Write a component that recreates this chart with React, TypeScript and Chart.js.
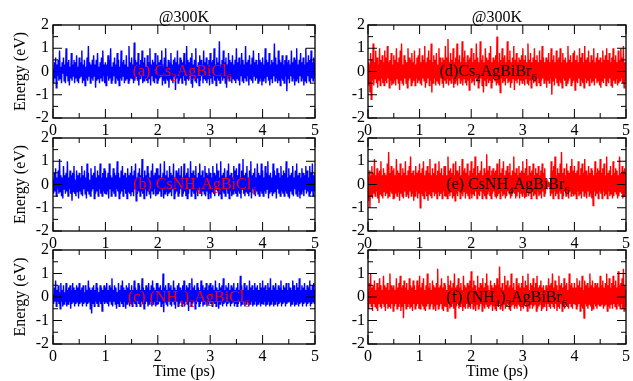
import React, { useEffect, useRef } from "react";
import { Chart, registerables } from "chart.js";

Chart.register(...registerables);

const FONT = "'Liberation Serif', 'Times New Roman', serif";

// ---- axis definitions ----
const T_MAX_PS = 5;
const xMajorTicks = [0, 1, 2, 3, 4, 5];
const xMinorTicks = [0.5, 1.5, 2.5, 3.5, 4.5];
const yMajorTicks = [-2, -1, 0, 1, 2];
const yMinorTicks = [-1.5, -0.5, 0.5, 1.5];
const panelTitle = "@300K";
const yAxisTitle = "Energy (eV)";
const xAxisTitle = "Time (ps)";

// ---- series values (eV), sampled every 0.0125 ps from 0 to 5 ps ----
const energyCs2AgBiCl6 = [
  0.1,-0.5,0.4,-0.3,0.6,-0.7,0.3,-0.2,0.5,-0.4,0.9,-0.3,0.2,-0.5,0.4,-0.1,0.6,-0.4,0.3,-0.5,1.0,-0.2,0.4,-0.4,0.5,-0.6,0.2,-0.3,0.8,-0.4,0.3,-0.2,0.5,-0.5,0.4,-0.3,0.7,-0.4,0.2,-0.5,
  0.6,-0.3,0.4,-0.2,0.9,-0.5,0.3,-0.4,0.5,-0.6,0.2,-0.3,0.6,-0.4,1.1,-0.2,0.4,-0.5,0.3,-0.3,0.5,-0.4,0.7,-0.2,0.3,-0.7,0.5,-0.4,0.8,-0.3,0.2,-0.5,0.4,-0.3,0.6,-0.4,0.9,-0.2,0.3,-0.5,
  0.4,-0.6,0.3,-0.2,0.7,-0.4,0.5,-0.3,1.0,-0.5,0.2,-0.4,0.4,-0.2,0.6,-0.5,0.3,-0.3,0.8,-0.4,0.5,-0.6,0.2,-0.3,0.9,-0.4,0.4,-0.2,0.5,-0.5,0.3,-0.4,0.7,-0.3,0.2,-0.5,1.1,-0.4,0.4,-0.3,
  0.6,-0.3,0.3,-0.5,1.25,-0.4,0.5,-0.2,0.4,-0.4,0.8,-0.6,0.3,-0.3,0.5,-0.2,0.9,-0.5,0.4,-0.4,0.6,-0.3,0.2,-0.4,0.7,-0.5,0.4,-0.3,1.0,-0.6,0.3,-0.2,0.5,-0.4,0.4,-0.5,0.8,-0.3,0.3,-0.5,
  0.7,-0.4,0.4,-0.3,0.5,-0.2,0.9,-0.6,0.3,-0.4,0.6,-0.5,1.0,-0.3,0.2,-0.4,0.5,-0.7,0.4,-0.3,0.8,-0.4,0.3,-0.5,0.5,-0.2,0.6,-0.8,0.4,-0.3,0.9,-0.5,0.3,-0.4,0.6,-0.3,0.5,-0.5,0.4,-0.2,
  0.8,-0.4,0.3,-0.6,1.1,-0.3,0.5,-0.4,0.4,-0.2,0.6,-0.5,0.8,-0.7,0.3,-0.3,0.5,-0.4,1.0,-0.5,0.2,-0.3,0.4,-0.6,0.7,-0.4,0.5,-0.2,0.3,-0.5,0.9,-0.3,0.4,-0.4,0.6,-0.5,0.3,-0.3,0.5,-0.6,
  0.8,-0.3,0.4,-0.5,0.5,-0.2,1.0,-0.4,0.3,-0.6,0.6,-0.3,0.4,-0.4,1.3,-0.5,0.3,-0.2,0.5,-0.4,0.9,-0.3,0.4,-0.5,0.6,-0.7,0.3,-0.3,0.8,-0.4,0.5,-0.2,0.4,-0.5,0.7,-0.3,0.3,-0.4,0.5,-0.5,
  1.0,-0.3,0.4,-0.4,0.6,-0.6,0.3,-0.2,0.8,-0.4,0.5,-0.5,0.3,-0.3,1.1,-0.4,0.4,-0.2,0.5,-0.6,0.7,-0.3,0.3,-0.4,0.6,-0.5,0.9,-0.2,0.4,-0.4,0.5,-0.3,0.3,-0.5,0.8,-0.4,0.5,-0.3,0.4,-0.6,
  0.6,-0.4,0.3,-0.3,1.0,-0.5,0.5,-0.2,0.4,-0.4,0.8,-0.6,0.3,-0.3,0.5,-0.5,0.4,-0.2,1.2,-0.4,0.6,-0.3,0.3,-0.5,0.9,-0.4,0.5,-0.6,0.4,-0.3,0.7,-0.4,0.3,-0.5,0.5,-0.2,0.7,-0.85,0.4,-0.3,
  0.5,-0.5,0.3,-0.2,0.9,-0.4,0.4,-0.3,0.6,-0.6,0.5,-0.4,1.0,-0.3,0.3,-0.5,0.5,-0.2,0.8,-0.4,0.4,-0.3,0.6,-0.6,0.3,-0.4,1.0,-0.5,0.4,-0.2,0.7,-0.4,0.5,-0.5,0.9,-0.3,0.4,-0.4,0.6,-0.3,
  0.4,
];

const energyCsNH4AgBiCl6 = [
  0.2,-0.4,0.5,-0.3,0.7,-0.5,0.3,-0.2,0.6,-0.4,1.1,-0.3,0.4,-0.5,0.3,-0.6,0.8,-0.2,0.4,-0.4,0.5,-0.3,1.0,-0.5,0.3,-0.2,0.6,-0.4,0.4,-0.7,0.5,-0.3,0.8,-0.4,0.2,-0.5,0.6,-0.3,0.4,-0.6,
  0.5,-0.3,0.3,-0.4,0.8,-0.5,0.4,-0.2,0.6,-0.4,0.3,-0.6,0.9,-0.3,0.5,-0.4,0.2,-0.5,0.7,-0.3,0.4,-0.2,0.5,-0.6,0.8,-0.4,0.3,-0.3,0.6,-0.5,0.4,-0.2,0.9,-0.4,0.3,-0.5,0.5,-0.3,0.7,-0.4,
  0.6,-0.4,0.3,-0.3,0.5,-0.6,0.9,-0.2,0.4,-0.5,0.3,-0.3,0.7,-0.4,0.5,-0.5,0.4,-0.2,1.0,-0.3,0.5,-0.6,0.3,-0.4,0.6,-0.3,0.8,-0.5,0.4,-0.2,0.5,-0.4,0.3,-0.6,0.7,-0.3,0.4,-0.4,0.5,-0.5,
  0.8,-0.3,0.4,-0.5,0.6,-0.2,0.9,-0.7,0.3,-0.4,0.5,-0.3,0.7,-0.5,0.4,-0.3,1.1,-0.4,0.3,-0.6,0.6,-0.2,0.4,-0.5,0.8,-0.3,0.5,-0.4,0.3,-0.6,0.6,-0.3,0.9,-0.4,0.4,-0.2,0.5,-0.5,0.7,-0.4,
  0.7,-0.4,0.4,-0.3,0.9,-0.5,0.3,-0.2,0.5,-0.6,1.0,-0.4,0.4,-0.3,0.6,-0.5,0.3,-0.4,0.8,-0.3,0.5,-0.5,0.4,-0.2,0.9,-0.6,0.3,-0.4,0.6,-0.3,0.5,-0.5,0.7,-0.4,0.4,-0.2,0.8,-0.5,0.3,-0.4,
  0.9,-0.3,0.4,-0.5,0.5,-0.6,0.7,-0.4,0.3,-0.2,1.0,-0.5,0.5,-0.3,0.6,-0.4,0.4,-0.6,0.8,-0.3,0.3,-0.5,0.5,-0.2,0.9,-0.4,0.4,-0.5,0.6,-0.3,0.3,-0.4,0.8,-0.5,0.5,-0.3,0.4,-0.6,0.7,-0.4,
  0.5,-0.6,0.3,-0.3,0.8,-0.4,0.5,-0.5,0.4,-0.2,0.9,-0.3,0.6,-0.5,0.3,-0.4,1.0,-0.6,0.4,-0.3,0.5,-0.4,0.7,-0.5,0.3,-0.2,0.6,-0.4,0.9,-0.6,0.4,-0.3,0.5,-0.5,0.3,-0.4,0.8,-0.3,0.6,-0.4,
  0.7,-0.5,0.4,-0.3,0.9,-0.4,0.3,-0.6,0.6,-0.2,1.1,-0.4,0.4,-0.5,0.5,-0.3,0.8,-0.4,0.3,-0.5,0.6,-0.3,1.0,-0.6,0.4,-0.2,0.5,-0.4,0.7,-0.5,0.3,-0.3,0.9,-0.4,0.5,-0.5,0.4,-0.3,0.9,-0.4,
  0.6,-0.5,0.3,-0.3,0.8,-0.4,0.5,-0.2,1.0,-0.6,0.4,-0.4,0.5,-0.3,0.3,-0.5,0.9,-0.4,0.6,-0.3,0.4,-0.6,0.7,-0.2,0.5,-0.4,0.3,-0.5,0.8,-0.3,0.4,-0.4,0.6,-0.5,0.5,-0.3,1.0,-0.4,0.3,-0.5,
  0.7,-0.6,0.4,-0.3,0.5,-0.4,0.8,-0.5,0.3,-0.2,0.6,-0.4,0.9,-0.5,0.4,-0.3,0.5,-0.6,0.3,-0.4,0.7,-0.3,0.5,-0.5,0.4,-0.2,0.8,-0.4,0.6,-0.3,0.3,-0.5,0.8,-0.4,0.5,-0.3,0.9,-0.5,0.4,-0.3,
  0.5,
];

const energyNH4_2AgBiCl6 = [
  0.1,-0.3,0.4,-0.2,0.7,-0.4,0.3,-0.2,0.5,-0.3,0.2,-0.5,0.6,-0.2,0.3,-0.4,0.5,-0.3,0.2,-0.2,0.6,-0.4,0.3,-0.3,0.4,-0.2,0.5,-0.5,0.3,-0.3,0.6,-0.2,0.4,-0.4,0.3,-0.3,0.5,-0.2,0.4,-0.4,
  0.6,-0.3,0.3,-0.2,0.4,-0.4,0.5,-0.3,0.2,-0.2,0.5,-0.4,0.3,-0.3,0.7,-0.2,0.4,-0.5,0.3,-0.7,0.4,-0.3,0.5,-0.4,0.3,-0.2,0.6,-0.3,0.4,-0.4,0.2,-0.2,0.5,-0.3,0.4,-0.6,0.3,-0.2,0.5,-0.3,
  0.4,-0.2,0.6,-0.3,0.3,-0.4,0.5,-0.2,0.4,-0.3,0.8,-0.4,0.3,-0.2,0.5,-0.3,0.4,-0.5,0.2,-0.3,0.6,-0.4,0.3,-0.2,0.5,-0.3,0.7,-0.4,0.4,-0.2,0.3,-0.5,0.5,-0.3,0.4,-0.2,0.6,-0.4,0.3,-0.3,
  0.5,-0.4,0.3,-0.2,0.7,-0.3,0.4,-0.4,0.3,-0.2,0.6,-0.3,0.5,-0.4,0.3,-0.2,0.8,-0.3,0.4,-0.5,0.3,-0.3,0.5,-0.2,0.4,-0.4,0.6,-0.3,0.3,-0.2,0.5,-0.4,0.7,-0.3,0.4,-0.2,0.3,-0.4,0.6,-0.3,
  0.6,-0.3,0.4,-0.2,0.5,-0.4,0.3,-0.3,1.0,-0.65,0.4,-0.2,0.5,-0.3,0.3,-0.4,0.6,-0.2,0.4,-0.3,0.5,-0.4,0.3,-0.2,0.7,-0.3,0.4,-0.5,0.3,-0.2,0.5,-0.4,0.6,-0.3,0.4,-0.2,0.3,-0.4,0.5,-0.3,
  0.7,-0.4,0.3,-0.2,0.5,-0.3,0.4,-0.6,0.6,-0.2,0.3,-0.4,0.8,-0.3,0.4,-0.2,0.5,-0.5,0.3,-0.3,0.6,-0.2,0.4,-0.4,0.3,-0.3,0.7,-0.2,0.5,-0.4,0.3,-0.3,0.4,-0.2,0.6,-0.4,0.3,-0.3,0.5,-0.2,
  0.6,-0.3,0.4,-0.4,0.5,-0.2,0.3,-0.3,0.7,-0.4,0.4,-0.2,0.3,-0.5,0.6,-0.3,0.4,-0.2,0.5,-0.4,0.8,-0.3,0.3,-0.2,0.5,-0.4,0.4,-0.3,0.6,-0.2,0.3,-0.4,0.5,-0.3,0.4,-0.2,0.6,-0.4,0.3,-0.3,
  0.4,-0.4,0.6,-0.3,0.3,-0.2,0.9,-0.4,0.5,-0.3,0.3,-0.2,0.6,-0.4,0.4,-0.3,0.5,-0.2,0.3,-0.4,0.7,-0.3,0.4,-0.2,0.5,-0.4,0.3,-0.3,0.6,-0.2,0.4,-0.4,0.5,-0.3,0.3,-0.2,0.6,-0.4,0.4,-0.3,
  0.7,-0.3,0.4,-0.2,0.5,-0.4,0.3,-0.3,0.6,-0.2,0.4,-0.4,0.8,-0.3,0.3,-0.2,0.5,-0.4,0.4,-0.3,0.6,-0.2,0.3,-0.4,0.5,-0.3,0.4,-0.2,0.7,-0.4,0.3,-0.3,0.5,-0.2,0.4,-0.4,0.6,-0.3,0.3,-0.2,
  0.6,-0.2,0.4,-0.4,0.3,-0.3,0.7,-0.2,0.5,-0.4,0.3,-0.3,0.6,-0.2,0.4,-0.4,0.8,-0.3,0.3,-0.2,0.5,-0.4,0.4,-0.3,0.6,-0.2,0.3,-0.4,0.5,-0.3,0.4,-0.2,0.7,-0.4,0.3,-0.3,0.5,-0.2,0.6,-0.3,
  0.3,
];

const energyCs2AgBiBr6 = [
  0.4,-0.6,0.3,-0.9,0.8,-1.2,0.5,-0.4,1.2,-0.6,0.4,-0.3,0.9,-0.5,0.6,-0.7,0.3,-0.4,1.0,-0.6,0.5,-0.3,0.7,-0.5,0.4,-0.6,0.9,-0.4,0.6,-0.5,1.1,-0.3,0.4,-0.7,0.5,-0.4,0.8,-0.6,0.3,-0.5,
  0.7,-0.4,0.5,-0.6,1.0,-0.3,0.4,-0.5,0.6,-0.8,0.9,-0.4,1.2,-0.5,0.3,-0.6,0.7,-0.3,0.5,-0.5,0.4,-0.7,1.0,-0.4,0.6,-0.3,0.5,-0.6,0.8,-0.5,0.4,-0.4,0.9,-0.6,0.3,-0.3,0.6,-0.5,0.7,-0.4,
  1.0,-0.5,0.4,-0.6,0.7,-0.3,0.5,-0.4,1.1,-0.7,0.4,-0.5,0.6,-0.3,0.9,-0.6,0.5,-0.4,1.2,-0.9,0.4,-0.5,0.7,-0.3,0.5,-0.6,0.8,-0.4,0.3,-0.5,1.0,-0.6,0.6,-0.3,0.4,-0.5,0.6,-0.7,0.5,-0.4,
  1.1,-0.5,0.6,-0.3,1.4,-0.6,0.4,-0.4,0.8,-0.5,0.5,-0.3,1.0,-0.7,0.4,-0.5,0.6,-0.4,1.2,-0.6,0.5,-0.3,0.7,-0.5,0.4,-0.4,1.3,-0.6,0.6,-0.3,0.9,-0.5,0.4,-0.6,0.7,-0.4,0.5,-0.8,0.6,-0.3,
  1.0,-0.5,0.4,-0.4,0.8,-0.6,0.5,-0.3,1.2,-0.4,0.6,-0.7,0.4,-0.5,1.3,-0.3,0.5,-0.6,0.7,-0.9,0.4,-0.4,1.0,-0.6,0.6,-0.3,0.5,-0.5,0.8,-0.4,1.1,-0.7,0.4,-0.5,0.6,-0.3,0.5,-0.4,0.7,-0.6,
  1.5,-0.5,0.4,-0.6,0.8,-0.9,0.5,-0.3,1.0,-0.5,0.6,-0.4,0.7,-0.6,0.4,-0.3,1.3,-0.5,0.5,-0.4,0.9,-0.7,0.4,-0.5,0.6,-0.3,1.1,-0.8,0.5,-0.4,0.8,-0.5,0.4,-0.3,0.6,-0.6,0.5,-0.4,0.7,-0.5,
  1.0,-0.4,0.5,-0.6,0.7,-0.3,0.4,-0.5,1.2,-0.6,0.5,-0.4,0.8,-0.7,0.4,-0.3,0.6,-0.5,1.0,-0.4,0.5,-0.6,0.7,-0.3,0.4,-0.5,0.9,-0.6,0.5,-0.4,1.1,-0.3,0.6,-0.5,0.4,-0.4,0.6,-0.7,0.5,-0.4,
  0.8,-0.5,0.4,-0.3,1.0,-1.0,0.5,-0.4,0.7,-0.6,0.4,-0.3,0.9,-0.5,0.5,-0.6,0.6,-0.4,1.0,-0.5,0.4,-0.7,0.8,-0.3,0.5,-0.4,0.6,-0.6,0.4,-0.5,1.1,-0.4,0.5,-0.3,0.7,-0.6,0.4,-0.5,0.8,-0.4,
  0.9,-0.8,0.5,-0.4,0.7,-0.5,0.4,-0.3,1.0,-0.6,0.6,-0.4,0.8,-0.5,0.4,-0.7,1.1,-0.3,0.5,-0.5,0.6,-0.4,0.9,-0.6,0.4,-0.3,0.7,-0.5,0.5,-0.4,1.0,-0.6,0.4,-0.3,0.6,-0.5,0.8,-0.4,0.5,-0.6,
  0.6,-0.7,0.4,-0.4,0.9,-0.5,0.5,-0.3,0.7,-0.6,1.0,-0.4,0.5,-0.5,0.8,-0.3,0.4,-0.6,0.6,-0.7,1.0,-0.4,0.5,-0.5,0.7,-0.3,0.4,-0.6,0.9,-0.5,0.5,-0.4,1.0,-0.3,0.6,-0.5,1.1,-0.7,0.4,-0.4,
  0.4,
];

const energyCsNH4AgBiBr6 = [
  0.3,-0.7,0.6,-1.0,0.4,-0.5,0.8,-0.6,0.5,-0.4,1.1,-0.5,0.4,-0.3,0.7,-0.6,0.5,-0.8,0.6,-0.4,1.0,-0.5,0.4,-0.6,0.7,-0.3,0.5,-0.5,0.4,-0.4,0.9,-0.6,1.4,-0.5,0.5,-0.3,0.8,-0.4,0.6,-0.6,
  0.7,-0.6,0.4,-0.4,1.1,-0.5,0.6,-0.3,0.5,-0.7,0.9,-0.4,0.4,-0.5,0.7,-0.6,0.5,-0.3,1.0,-0.5,0.4,-0.4,0.6,-0.6,0.8,-0.3,1.2,-0.5,0.5,-0.4,0.6,-0.7,0.4,-0.5,0.8,-0.3,0.5,-0.6,0.6,-0.4,
  0.9,-1.0,0.5,-0.4,0.7,-0.5,1.0,-0.6,0.4,-0.3,0.6,-0.5,0.8,-0.7,0.5,-0.4,1.1,-0.5,0.4,-0.6,0.7,-0.3,0.5,-0.5,0.9,-0.4,0.4,-0.6,0.6,-0.3,1.0,-0.5,0.5,-0.4,0.7,-0.6,0.4,-0.3,0.8,-0.5,
  0.8,-0.5,0.4,-0.6,1.2,-0.4,0.6,-0.5,0.7,-0.3,0.5,-0.6,0.9,-0.5,0.4,-0.7,1.0,-0.4,0.6,-0.5,0.5,-0.3,0.8,-0.6,0.4,-0.4,1.1,-0.5,0.6,-0.3,0.7,-0.6,0.5,-0.4,0.9,-0.5,0.4,-0.6,0.6,-0.4,
  1.0,-0.6,0.5,-0.4,0.7,-0.5,1.2,-0.3,0.4,-0.6,0.8,-0.4,0.5,-0.5,0.6,-0.3,1.0,-0.6,0.4,-0.4,0.7,-0.5,0.5,-0.6,1.3,-0.4,0.6,-0.3,0.8,-0.5,0.4,-0.6,0.6,-0.4,0.7,-0.3,0.5,-0.5,0.6,-0.6,
  0.9,-0.5,0.4,-0.4,1.1,-0.6,0.5,-0.3,0.7,-0.5,1.0,-0.4,0.4,-0.6,0.6,-0.5,0.8,-0.3,0.5,-0.4,0.9,-0.6,0.4,-0.5,0.6,-0.3,1.2,-0.4,0.5,-0.6,0.7,-0.5,0.4,-0.3,0.8,-0.6,0.5,-0.4,0.6,-0.5,
  1.0,-0.4,0.5,-0.6,0.7,-0.5,1.1,-0.3,0.4,-0.5,0.8,-0.4,0.5,-0.6,0.6,-0.3,0.9,-0.5,0.4,-0.4,0.7,-0.6,0.5,-0.3,0.8,-0.5,0.4,-0.4,0.6,-0.6,0.9,-0.3,0.5,-0.5,0.7,-0.4,0.2,-0.1,0.1,-0.05,
  0.05,-0.1,0.1,-0.5,1.0,-0.4,0.6,-0.6,0.8,-0.3,1.2,-0.5,0.4,-0.4,0.7,-0.6,0.5,-0.3,0.9,-0.4,1.4,-0.6,0.5,-0.5,0.7,-0.3,0.4,-0.5,0.9,-0.4,0.6,-0.6,0.5,-0.3,0.8,-0.5,1.1,-0.4,0.6,-0.5,
  0.8,-0.4,0.5,-0.6,0.6,-0.3,1.0,-0.5,0.4,-0.4,0.7,-0.6,0.9,-0.3,0.5,-0.5,1.1,-0.4,0.6,-0.6,0.4,-0.3,0.8,-0.5,0.5,-0.4,0.7,-0.6,0.6,-0.9,0.4,-0.3,1.0,-0.5,0.5,-0.4,0.7,-0.6,0.6,-0.3,
  1.1,-0.4,0.5,-0.6,0.7,-0.3,0.9,-0.5,0.4,-0.4,1.2,-0.6,0.5,-0.3,0.6,-0.5,0.8,-0.4,0.4,-0.6,1.0,-0.5,0.5,-0.3,0.7,-0.4,0.6,-0.6,0.4,-0.5,1.2,-0.3,0.5,-0.4,0.8,-0.6,0.6,-0.5,0.7,-0.4,
  0.5,
];

const energyNH4_2AgBiBr6 = [
  0.2,-0.5,0.6,-0.3,1.0,-0.4,0.4,-0.6,0.5,-0.3,0.7,-0.4,0.3,-0.5,0.6,-0.6,0.4,-0.3,0.8,-0.4,0.5,-0.5,0.3,-0.3,0.9,-0.4,0.5,-0.6,0.4,-0.3,0.6,-0.5,0.3,-0.4,1.0,-0.5,0.5,-0.3,0.4,-0.6,
  0.5,-0.4,0.3,-0.3,0.8,-0.5,0.4,-0.4,0.6,-0.3,0.9,-0.6,0.4,-0.4,0.5,-0.9,0.7,-0.3,0.4,-0.5,0.6,-0.4,0.3,-0.3,0.8,-0.5,0.5,-0.4,0.4,-0.6,0.7,-0.3,0.5,-0.5,0.3,-0.4,0.7,-0.3,0.5,-0.5,
  0.9,-0.5,0.4,-0.3,0.6,-0.4,0.8,-0.5,0.3,-0.6,0.5,-0.4,1.0,-0.3,0.4,-0.5,0.6,-0.4,0.3,-0.3,0.7,-0.5,0.5,-0.4,0.4,-0.6,0.6,-0.3,1.2,-0.5,0.4,-0.4,0.5,-0.3,0.8,-0.5,0.4,-0.6,0.6,-0.4,
  0.5,-0.4,0.3,-0.6,0.9,-0.3,0.5,-0.5,0.7,-0.4,0.4,-0.3,0.6,-0.5,1.0,-0.9,0.4,-0.4,0.5,-0.3,0.8,-0.5,0.4,-0.4,0.6,-0.3,0.3,-0.6,0.9,-0.4,0.5,-0.5,0.4,-0.3,0.6,-0.5,0.5,-0.4,0.7,-0.5,
  1.1,-0.3,0.4,-0.5,0.7,-0.4,0.5,-0.6,0.3,-0.3,0.9,-0.5,0.4,-0.4,0.6,-0.3,0.5,-0.6,0.8,-0.4,0.4,-0.5,0.6,-0.3,1.0,-0.4,0.5,-0.5,0.3,-0.4,0.7,-0.3,0.5,-0.6,0.4,-0.4,0.6,-0.5,0.5,-0.6,
  0.8,-0.4,0.5,-0.3,1.3,-0.5,0.4,-0.4,0.6,-0.6,0.3,-0.3,0.9,-0.5,0.5,-0.4,0.7,-0.3,0.4,-0.5,0.5,-0.6,1.0,-0.4,0.4,-0.3,0.6,-0.5,0.3,-0.4,0.8,-0.5,0.5,-0.3,0.6,-0.4,0.4,-0.6,0.6,-0.4,
  0.9,-0.5,0.4,-0.3,0.7,-0.4,0.5,-0.6,1.0,-0.4,0.3,-0.5,0.6,-0.3,0.5,-0.5,0.8,-0.4,0.4,-0.3,0.6,-0.6,0.9,-0.5,0.4,-0.4,0.5,-0.3,0.7,-0.6,0.4,-0.5,0.5,-0.4,0.3,-0.3,0.5,-0.6,0.4,-0.3,
  0.8,-0.4,0.5,-0.5,0.6,-0.3,1.0,-0.4,0.4,-0.5,0.7,-0.3,0.5,-0.6,0.3,-0.4,0.9,-0.5,0.5,-0.3,0.6,-0.6,0.4,-0.4,0.8,-0.5,0.5,-0.3,0.6,-0.4,0.3,-0.5,1.0,-0.3,0.5,-0.4,0.6,-0.5,0.4,-0.3,
  0.6,-0.3,0.4,-0.5,0.8,-0.4,0.5,-0.3,0.7,-0.6,0.4,-0.4,0.9,-0.5,0.3,-0.9,0.7,-0.3,0.5,-0.4,0.6,-0.5,0.4,-0.3,1.0,-0.4,0.5,-0.6,0.7,-0.5,0.4,-0.3,0.6,-0.4,0.5,-0.5,0.6,-0.3,0.4,-0.4,
  0.9,-0.4,0.5,-0.3,0.7,-0.5,0.4,-0.4,0.6,-0.3,1.0,-0.6,0.5,-0.4,0.8,-0.5,0.4,-0.3,0.6,-0.5,0.9,-0.3,0.5,-0.4,0.7,-0.5,0.4,-0.3,1.1,-0.4,0.5,-0.5,0.6,-0.3,0.8,-0.5,1.2,-0.6,0.5,-0.4,
  0.3,
];

// ---- panel labels: [text, isSubscript] ----
type Part = [string, boolean];
const labelA: Part[] = [["(a) Cs", false], ["2", true], ["AgBiCl", false], ["6", true]];
const labelB: Part[] = [["(b) CsNH", false], ["4", true], ["AgBiCl", false], ["6", true]];
const labelC: Part[] = [["(c) (NH", false], ["4", true], [")", false], ["2", true], ["AgBiCl", false], ["6", true]];
const labelD: Part[] = [["(d)Cs", false], ["2", true], ["AgBiBr", false], ["6", true]];
const labelE: Part[] = [["(e) CsNH", false], ["4", true], ["AgBiBr", false], ["6", true]];
const labelF: Part[] = [["(f) (NH", false], ["4", true], [")", false], ["2", true], ["AgBiBr", false], ["6", true]];

// label start position (ps) on each panel
const labelStartPs = [1.52, 1.53, 1.43, 1.39, 1.52, 1.52];

// ---- layout (not data) ----
const W = 633;
const H = 381;
const colLayout = [
  { left: 0, right: 318, yW: 53, yPad: 4 },
  { left: 320, right: 4, yW: 48, yPad: 3 },
];
const rowLayout = [
  { top: 25, bottom: 245, xH: 18 },
  { top: 138, bottom: 133, xH: 17 },
  { top: 250, bottom: 0, xH: 37 },
];

const BLUE = "#0000ff";
const RED = "#ff0000";

const panels = [
  { col: 0, row: 0, values: energyCs2AgBiCl6, color: BLUE, label: labelA, labelColor: RED, lx: labelStartPs[0] },
  { col: 0, row: 1, values: energyCsNH4AgBiCl6, color: BLUE, label: labelB, labelColor: RED, lx: labelStartPs[1] },
  { col: 0, row: 2, values: energyNH4_2AgBiCl6, color: BLUE, label: labelC, labelColor: RED, lx: labelStartPs[2] },
  { col: 1, row: 0, values: energyCs2AgBiBr6, color: RED, label: labelD, labelColor: "#000", lx: labelStartPs[3] },
  { col: 1, row: 1, values: energyCsNH4AgBiBr6, color: RED, label: labelE, labelColor: "#000", lx: labelStartPs[4] },
  { col: 1, row: 2, values: energyNH4_2AgBiBr6, color: RED, label: labelF, labelColor: "#000", lx: labelStartPs[5] },
];

const decorPlugin = {
  id: "decor",
  beforeDatasetsDraw(chart: any) {
    const { ctx, chartArea: a, scales } = chart;
    const y0 = scales.y.getPixelForValue(0);
    ctx.save();
    ctx.strokeStyle = "#000";
    ctx.lineWidth = 1;
    ctx.beginPath();
    ctx.moveTo(a.left, y0);
    ctx.lineTo(a.right, y0);
    ctx.stroke();
    ctx.restore();
  },
  afterDatasetsDraw(chart: any, _args: any, opts: any) {
    const { ctx, chartArea: a, scales } = chart;
    const xs = scales.x;
    const ys = scales.y;
    ctx.save();
    ctx.strokeStyle = "#000";
    ctx.lineWidth = 1;
    const MAJ = 9;
    const MIN = 5;
    ctx.beginPath();
    const xt = (v: number, len: number) => {
      const px = xs.getPixelForValue(v);
      ctx.moveTo(px, a.bottom);
      ctx.lineTo(px, a.bottom - len);
      ctx.moveTo(px, a.top);
      ctx.lineTo(px, a.top + len);
    };
    const yt = (v: number, len: number) => {
      const py = ys.getPixelForValue(v);
      ctx.moveTo(a.left, py);
      ctx.lineTo(a.left + len, py);
      ctx.moveTo(a.right, py);
      ctx.lineTo(a.right - len, py);
    };
    xMajorTicks.forEach((v) => xt(v, MAJ));
    xMinorTicks.forEach((v) => xt(v, MIN));
    yMajorTicks.forEach((v) => yt(v, MAJ));
    yMinorTicks.forEach((v) => yt(v, MIN));
    ctx.stroke();
    ctx.lineWidth = 1.3;
    ctx.strokeRect(a.left, a.top, a.right - a.left, a.bottom - a.top);

    // panel label with subscripts
    const parts: Part[] = opts.label;
    let cx = xs.getPixelForValue(opts.lx);
    const base = ys.getPixelForValue(0) + 4.5;
    ctx.fillStyle = opts.labelColor;
    ctx.textAlign = "left";
    ctx.textBaseline = "alphabetic";
    for (const [t, sub] of parts) {
      ctx.font = sub ? `11px ${FONT}` : `16px ${FONT}`;
      ctx.fillText(t, cx, sub ? base + 5 : base);
      cx += ctx.measureText(t).width;
    }

    if (opts.title) {
      ctx.fillStyle = "#000";
      ctx.font = `16px ${FONT}`;
      ctx.textAlign = "center";
      ctx.fillText(opts.title, (a.left + a.right) / 2, a.top - 3);
    }
    ctx.restore();
  },
};

function Panel({ p }: { p: (typeof panels)[number] }) {
  const ref = useRef<HTMLCanvasElement>(null);
  useEffect(() => {
    const c = colLayout[p.col];
    const r = rowLayout[p.row];
    const step = T_MAX_PS / (p.values.length - 1);
    const points = p.values.map((v, i) => ({ x: i * step, y: v }));
    const chart = new Chart(ref.current!, {
      type: "line",
      data: {
        datasets: [
          {
            data: points,
            borderColor: p.color,
            borderWidth: 1.4,
            pointRadius: 0,
            tension: 0,
            fill: false,
          },
        ],
      },
      options: {
        responsive: false,
        animation: false,
        devicePixelRatio: 1,
        layout: { padding: { left: c.left, right: c.right, top: r.top, bottom: r.bottom } },
        plugins: {
          legend: { display: false },
          tooltip: { enabled: false },
          decor: {
            label: p.label,
            labelColor: p.labelColor,
            lx: p.lx,
            title: p.row === 0 ? panelTitle : null,
          },
        } as any,
        scales: {
          x: {
            type: "linear",
            min: 0,
            max: T_MAX_PS,
            position: "bottom",
            grid: { display: false, drawTicks: false },
            border: { display: false },
            ticks: {
              stepSize: 1,
              color: "#000",
              font: { family: FONT, size: 16 },
              padding: 3,
              maxRotation: 0,
              autoSkip: false,
            },
            title: {
              display: p.row === 2,
              text: xAxisTitle,
              color: "#000",
              font: { family: FONT, size: 16 },
              padding: { top: 0, bottom: 0 },
            },
            afterFit: (s: any) => {
              s.height = r.xH;
            },
          },
          y: {
            type: "linear",
            min: -2,
            max: 2,
            grid: { display: false, drawTicks: false },
            border: { display: false },
            ticks: {
              stepSize: 1,
              color: "#000",
              font: { family: FONT, size: 16 },
              padding: c.yPad,
              autoSkip: false,
            },
            title: {
              display: p.col === 0,
              text: yAxisTitle,
              color: "#000",
              font: { family: FONT, size: 16 },
              padding: { top: 11, bottom: 0 },
            },
            afterFit: (s: any) => {
              s.width = c.yW;
            },
          },
        },
      } as any,
      plugins: [decorPlugin],
    });
    return () => chart.destroy();
  }, []);
  return (
    <canvas
      ref={ref}
      width={W}
      height={H}
      style={{ position: "absolute", left: 0, top: 0, width: W, height: H }}
    />
  );
}

export default function App() {
  useEffect(() => {
    document.body.style.margin = "0";
  }, []);
  return (
    <div
      style={{
        position: "fixed",
        left: 0,
        top: 0,
        width: W,
        height: H,
        background: "#fff",
        overflow: "hidden",
      }}
    >
      {panels.map((p, i) => (
        <Panel key={i} p={p} />
      ))}
    </div>
  );
}
